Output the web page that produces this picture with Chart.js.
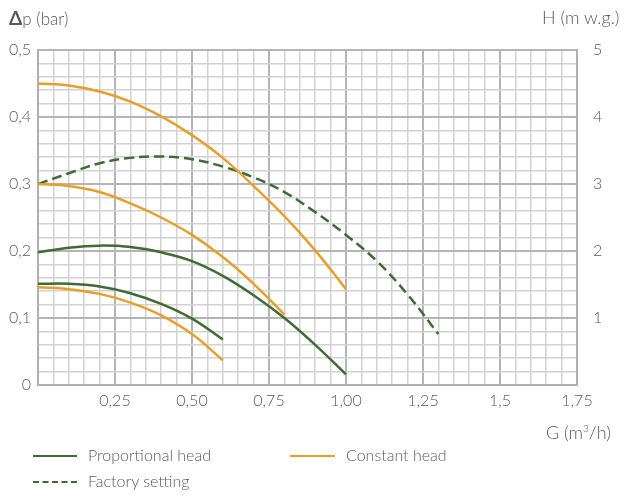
<!DOCTYPE html>
<html>
<head>
<meta charset="utf-8">
<script src="https://cdn.jsdelivr.net/npm/chart.js@4/dist/chart.umd.min.js"></script>
<style>
  html, body { margin: 0; padding: 0; background: #fff; }
  #wrap { position: relative; width: 630px; height: 497px; font-family: 'Lato', sans-serif; font-weight: 300; color: #5a5a5a; }
  #chart { position: absolute; left: 0; top: 0; }
  .lbl { position: absolute; font-size: 17px; white-space: nowrap; }
  .leg { position: absolute; height: 0; }
  .legtxt { font-size: 16px; }
  sup { font-size: 10px; }
</style>
</head>
<body>
<div id="wrap">
  <canvas id="chart" width="630" height="497"></canvas>
  <div class="lbl" style="left:9px; top:6px;"><span style="font-weight:700; font-size:19px;">&Delta;</span>p (bar)</div>
  <div class="lbl" style="left:542px; top:6px; font-size:18px;">H (m w.g.)</div>
  <div class="lbl" style="left:546px; top:421px; font-size:18px;">G (m<sup>3</sup>/h)</div>

  <div class="leg" style="left:33px; top:455px; width:44px; border-top:2.5px solid #3f6b34;"></div>
  <div class="lbl legtxt" style="left:88px; top:445px;">Proportional head</div>
  <div class="leg" style="left:290px; top:455px; width:45px; border-top:2.5px solid #e89f2a;"></div>
  <div class="lbl legtxt" style="left:346px; top:445px;">Constant head</div>
  <div class="leg" style="left:33px; top:481px; width:44px; border-top:2.5px dashed #3f6b34;"></div>
  <div class="lbl legtxt" style="left:88px; top:471px;">Factory setting</div>
</div>
<script>
// flow G (m3/h) and pressure Δp (bar)
const gConstHigh = [0, 0.1, 0.2, 0.3, 0.4, 0.5, 0.6, 0.7, 0.8, 0.9, 1.0];
const constHigh  = [0.45, 0.447, 0.438, 0.423, 0.401, 0.373, 0.339, 0.297, 0.252, 0.201, 0.143];

const gConstMid = [0, 0.1, 0.2, 0.3, 0.4, 0.5, 0.6, 0.7, 0.8];
const constMid  = [0.30, 0.297, 0.288, 0.271, 0.250, 0.224, 0.191, 0.151, 0.105];

const gConstLow = [0, 0.1, 0.2, 0.3, 0.4, 0.5, 0.6];
const constLow  = [0.146, 0.143, 0.136, 0.123, 0.104, 0.076, 0.037];

const gPropHigh = [0, 0.1, 0.2, 0.3, 0.4, 0.5, 0.6, 0.7, 0.8, 0.9, 1.0];
const propHigh  = [0.198, 0.205, 0.208, 0.206, 0.198, 0.185, 0.163, 0.134, 0.100, 0.060, 0.016];

const gPropLow = [0, 0.1, 0.2, 0.3, 0.4, 0.5, 0.6];
const propLow  = [0.151, 0.151, 0.147, 0.137, 0.121, 0.099, 0.068];

const gFactory = [0, 0.1, 0.2, 0.3, 0.4, 0.5, 0.6, 0.7, 0.8, 0.9, 1.0, 1.1, 1.2, 1.3];
const factory  = [0.30, 0.316, 0.331, 0.339, 0.341, 0.337, 0.326, 0.310, 0.288, 0.258, 0.224, 0.185, 0.135, 0.076];

// tick labels
const xTickValues = [0.25, 0.5, 0.75, 1.0, 1.25, 1.5, 1.75];
const xTickLabels = ['0,25', '0,50', '0,75', '1,00', '1,25', '1,5', '1,75'];
const yTickValues = [0, 0.1, 0.2, 0.3, 0.4, 0.5];
const yTickLabels = ['0', '0,1', '0,2', '0,3', '0,4', '0,5'];
const hTickValues = [1, 2, 3, 4, 5];
const hTickLabels = ['1', '2', '3', '4', '5'];

const GREEN = '#3f6b34';
const ORANGE = '#e89f2a';

function pts(xs, ys) {
  return xs.map((x, i) => ({ x, y: ys[i] }));
}

function curve(label, xs, ys, color, dashed) {
  return {
    label,
    data: pts(xs, ys),
    borderColor: color,
    borderWidth: 2.5,
    borderDash: dashed ? [10, 5] : [],
    pointRadius: 0,
    tension: 0.4,
    fill: false
  };
}

function lookup(values, labels, v, scale) {
  const k = Math.round(v * scale);
  const i = values.findIndex(t => Math.round(t * scale) === k);
  return i >= 0 ? labels[i] : '';
}

const isMajor = (v, step) => Math.abs(v / step - Math.round(v / step)) < 1e-6;

const tickFont = { family: 'Lato', size: 16, weight: 300 };

const ctx = document.getElementById('chart').getContext('2d');
const chart = new Chart(ctx, {
  type: 'line',
  data: {
    datasets: [
      curve('Constant head', gConstHigh, constHigh, ORANGE, false),
      curve('Constant head', gConstMid, constMid, ORANGE, false),
      curve('Constant head', gConstLow, constLow, ORANGE, false),
      curve('Proportional head', gPropHigh, propHigh, GREEN, false),
      curve('Proportional head', gPropLow, propLow, GREEN, false),
      curve('Factory setting', gFactory, factory, GREEN, true)
    ]
  },
  options: {
    responsive: false,
    animation: false,
    layout: { padding: { top: 50, left: 0, right: 0, bottom: 0 } },
    plugins: {
      legend: { display: false },
      tooltip: { enabled: false }
    },
    scales: {
      x: {
        type: 'linear',
        min: 0,
        max: 1.75,
        afterFit: (s) => { s.height = 112; },
        border: { display: true, color: '#b0b0b0', width: 2 },
        grid: {
          drawTicks: false,
          color: (c) => isMajor(c.tick.value, 0.25) ? '#b4b4b4' : '#d2d2d2',
          lineWidth: (c) => isMajor(c.tick.value, 0.25) ? 2 : 1.5
        },
        ticks: {
          stepSize: 0.05,
          autoSkip: false,
          maxRotation: 0,
          padding: 6,
          color: '#5a5a5a',
          font: tickFont,
          callback: (v) => lookup(xTickValues, xTickLabels, v, 100)
        }
      },
      y: {
        type: 'linear',
        position: 'left',
        min: 0,
        max: 0.5,
        afterFit: (s) => { s.width = 38; },
        border: { display: true, color: '#b0b0b0', width: 2 },
        grid: {
          drawTicks: false,
          color: (c) => isMajor(c.tick.value, 0.1) ? '#b4b4b4' : '#d2d2d2',
          lineWidth: (c) => isMajor(c.tick.value, 0.1) ? 2 : 1.5
        },
        ticks: {
          stepSize: 0.02,
          autoSkip: false,
          padding: 7,
          color: '#5a5a5a',
          font: tickFont,
          callback: (v) => lookup(yTickValues, yTickLabels, v, 100)
        }
      },
      h: {
        type: 'linear',
        position: 'right',
        min: 0,
        max: 5,
        afterFit: (s) => { s.width = 53; },
        border: { display: true, color: '#b0b0b0', width: 2 },
        grid: { display: false, drawTicks: false },
        ticks: {
          stepSize: 1,
          autoSkip: false,
          padding: 16,
          color: '#5a5a5a',
          font: tickFont,
          callback: (v) => lookup(hTickValues, hTickLabels, v, 1)
        }
      }
    }
  }
});
</script>
</body>
</html>
